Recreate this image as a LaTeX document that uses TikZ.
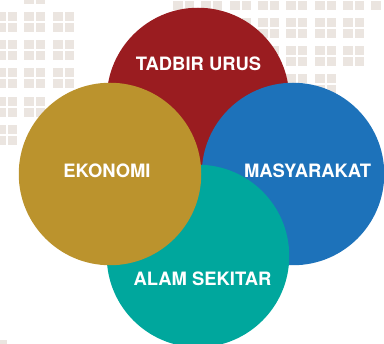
\documentclass[tikz,border=0pt]{standalone}
\usepackage{fontspec}
\setmainfont{TeX Gyre Heros}
\definecolor{sq}{HTML}{EBE5E0}
\definecolor{cred}{HTML}{9A1C20}
\definecolor{cblue}{HTML}{1D72BA}
\definecolor{cgold}{HTML}{BB932D}
\definecolor{cteal}{HTML}{00A79D}
\tikzset{
  disc/.style={circle,inner sep=0pt,minimum size=182.5pt,draw=none},
  lbl/.style={text=white,font=\bfseries\fontsize{18.4}{20}\selectfont,inner sep=0pt,anchor=center},
}
\newcommand{\sqpair}[2]{%
  \fill[sq] (#1,#2) rectangle ++(9.5,9.5);
  \fill[sq] (#1+11.5,#2) rectangle ++(9.5,9.5);
  \fill[sq] (#1,#2+11) rectangle ++(9.5,9.5);
  \fill[sq] (#1+11.5,#2+11) rectangle ++(9.5,9.5);}
\begin{document}
\begin{tikzpicture}[x=1pt,y=-1pt]
\useasboundingbox (0,0) rectangle (384,344);
\clip (0,0) rectangle (384,344);
% left lattice
\foreach \y in {12,40,68}{\foreach \x in {-4,24,53}{\sqpair{\x}{\y}}}
\foreach \x in {-4,24}{\sqpair{\x}{97}}
\sqpair{-4}{125}
\sqpair{24}{-16}
\fill[sq] (0,340) rectangle (7,344);
% right lattice
\foreach \x in {173,201,230,258,286,315,343}{\sqpair{\x}{-10}}
\fill[sq] (371,1) rectangle (380.5,10);
\foreach \y in {18,46}{\foreach \x in {201,230,258,286,315,343}{\sqpair{\x}{\y}}}
\foreach \x in {258,286,315}{\sqpair{\x}{74}}
% discs
\node[disc,fill=cred] (tadbir) at (198,99) {};
\node[disc,fill=cblue] (masy) at (293,174) {};
\node[disc,fill=cteal] (alam) at (198,256) {};
\node[disc,fill=cgold] (eko) at (110,174) {};
% labels
\node[lbl] (l1) at (198.5,63.5) {TADBIR URUS};
\node[lbl] (l2) at (107,170.5) {EKONOMI};
\node[lbl] (l3) at (307.5,170.5) {MASYARAKAT};
\node[lbl] (l4) at (202.5,279) {ALAM SEKITAR};
\end{tikzpicture}
\end{document}
